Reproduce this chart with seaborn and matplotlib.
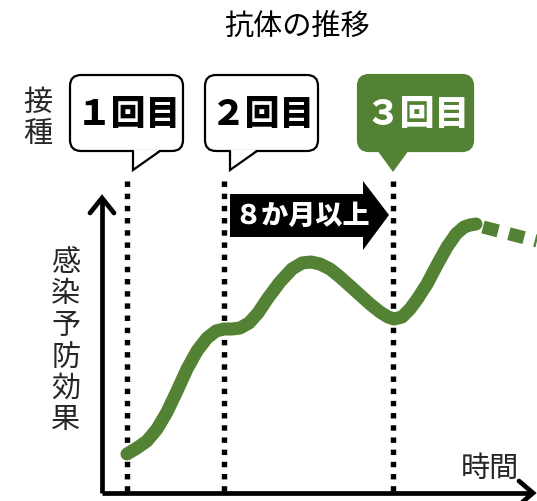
import pandas as pd
import matplotlib
matplotlib.use("Agg")
import matplotlib.pyplot as plt
import seaborn as sns
from matplotlib.patches import FancyBboxPatch, Polygon

sns.set_theme(style="white")
plt.rcParams['font.family'] = ['Noto Sans CJK JP', 'DejaVu Sans']

# Data (picture coordinates)
curve_x = [127, 137, 147, 157, 167, 177, 187, 197, 207, 216, 224, 232, 240, 249, 258,
           268, 280, 292, 302, 311, 320, 330, 340, 350, 360, 370, 380, 388, 394,
           402, 410, 418, 427, 437, 447, 456, 464, 470, 476]
curve_y = [455, 449, 442, 430, 413, 392, 370, 352, 339, 332, 330, 330, 329, 324, 314,
           299, 283, 270, 264, 263, 265, 270, 278, 287, 296, 305, 313, 318, 320,
           318, 310, 299, 285, 266, 248, 235, 228, 226, 225]
future_x = [483, 537]
future_y = [228, 242]
dose_x = [127, 224, 393]
dose_labels = ["１回目", "２回目", "３回目"]
green = "#548235"

fig = plt.figure(figsize=(5.37, 5.02), dpi=100)
ax = fig.add_axes([0, 0, 1, 1])
ax.set_xlim(0, 537)
ax.set_ylim(502, 0)
ax.axis("off")

# title
ax.text(297, 28, "抗体の推移", ha="center", va="center", fontsize=21, color="black")

# axes arrows
ax.plot([102, 102], [494, 199], color="black", lw=3.4, solid_capstyle="butt")
ax.plot([90, 102, 114], [214, 199, 214], color="black", lw=3.4, solid_joinstyle="miter")
ax.plot([102, 532], [494, 494], color="black", lw=3.4, solid_capstyle="butt")
ax.plot([519, 533, 519], [482, 494, 506], color="black", lw=3.4, solid_joinstyle="miter")

# vaccination dotted lines
ax.vlines(dose_x, 182, 494, colors="black", lw=3.9, linestyles=[(0, (1, 1.25))])

# antibody curve
df = pd.DataFrame({"t": curve_x, "v": curve_y})
sns.lineplot(data=df, x="t", y="v", ax=ax, color=green, lw=9.4, sort=False,
             solid_capstyle="round", solid_joinstyle="round", legend=False)
ax.plot(future_x, future_y, color=green, lw=9.4, linestyle=(0, (1.2, 0.85)),
        dash_capstyle="butt")

# axis labels
ax.text(490, 469, "時間", ha="center", va="center", fontsize=21)
for i, ch in enumerate("感染予防効果"):
    ax.text(66, 263 + i * 31.5, ch, ha="center", va="center", fontsize=21)
for i, ch in enumerate("接種"):
    ax.text(38, 103 + i * 31, ch, ha="center", va="center", fontsize=21)

# callout boxes
boxes = [(70, 183), (205, 318), (358, 473)]
for k, ((x0, x1), px, lab) in enumerate(zip(boxes, dose_x, dose_labels)):
    y0, y1 = 76, 152
    last = k == 2
    fc = green if last else "white"
    ec = green if last else "black"
    box = FancyBboxPatch((x0, y0), x1 - x0, y1 - y0,
                         boxstyle="round,pad=0,rounding_size=11",
                         fc=fc, ec=ec, lw=1.6, zorder=3)
    ax.add_patch(box)
    if last:
        tail = [(px - 16, y1 - 1), (px, 173), (px + 16, y1 - 1)]
        ax.add_patch(Polygon(tail, closed=True, fc=green, ec="none", zorder=4))
        tc = "white"
    else:
        tip = (px + 6, 171)
        tail = [(px + 6, y1 - 1.5), tip, (px + 33, y1 - 1.5)]
        ax.add_patch(Polygon(tail, closed=True, fc="white", ec="none", zorder=4))
        ax.plot([px + 6, tip[0], px + 33], [y1, tip[1], y1], color="black",
                lw=1.6, zorder=5, solid_joinstyle="miter")
        tc = "black"
    ax.text((x0 + x1) / 2 + 2, 114, lab, ha="center", va="center",
            fontsize=25, fontweight="heavy", color=tc, zorder=6)

# 8 months arrow
arrow = [(230, 195), (363, 195), (363, 182), (389, 216), (363, 251),
         (363, 238), (230, 238)]
ax.add_patch(Polygon(arrow, closed=True, fc="black", ec="none", zorder=3))
ax.text(302, 216, "８か月以上", ha="center", va="center", fontsize=19.5,
        fontweight="heavy", color="white", zorder=4)

fig.savefig("out.png", dpi=100)
